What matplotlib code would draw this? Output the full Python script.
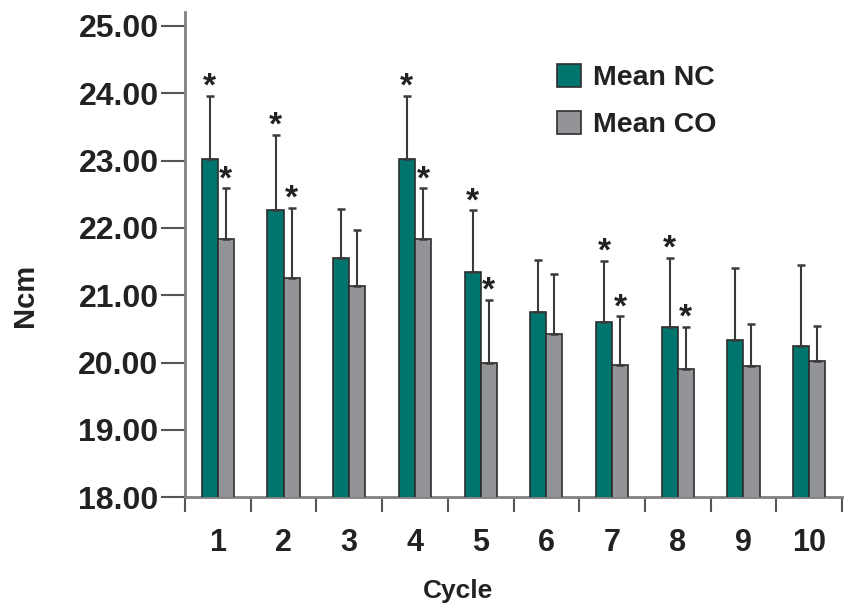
import numpy as np
import matplotlib.pyplot as plt

plt.rcParams['font.family'] = ['Liberation Sans', 'DejaVu Sans']
plt.rcParams['font.weight'] = 'bold'

# values
cycles = ['1', '2', '3', '4', '5', '6', '7', '8', '9', '10']
mean_nc = [23.02, 22.27, 21.56, 23.02, 21.34, 20.75, 20.60, 20.53, 20.33, 20.25]
sd_nc = [0.94, 1.11, 0.72, 0.94, 0.92, 0.77, 0.91, 1.03, 1.07, 1.20]
mean_co = [21.84, 21.25, 21.14, 21.84, 20.00, 20.42, 19.97, 19.91, 19.95, 20.02]
sd_co = [0.75, 1.05, 0.83, 0.75, 0.93, 0.90, 0.72, 0.62, 0.62, 0.52]
star_nc = [1, 1, 0, 1, 1, 0, 1, 1, 0, 0]
star_co = [1, 1, 0, 1, 1, 0, 1, 1, 0, 0]

teal = '#00756e'
grey = '#939498'
dark = '#222222'

fig = plt.figure(figsize=(8.48, 6.04), dpi=100)
ax = fig.add_axes([185/848, 106.7/604, 657/848, 484.8/604])

x = np.arange(1, len(cycles) + 1)
w = 0.245
ekw = dict(ecolor='#3a3a3a', elinewidth=1.5, capsize=2.6, capthick=1.8)
ax.bar(x - w/2, mean_nc, w, color=teal, edgecolor='#2e2e2e', linewidth=1.2,
       yerr=[np.zeros(len(x)), sd_nc], error_kw=ekw, label='Mean NC', zorder=3)
ax.bar(x + w/2, mean_co, w, color=grey, edgecolor='#2e2e2e', linewidth=1.2,
       yerr=[np.zeros(len(x)), sd_co], error_kw=ekw, label='Mean CO', zorder=3)

# significance stars
for xi, m, s, f in zip(x - w/2, mean_nc, sd_nc, star_nc):
    if f:
        ax.annotate('*', (xi, m + s), xytext=(0, 0), textcoords='offset points',
                    ha='center', va='baseline', fontsize=24, color=dark)
for xi, m, s, f in zip(x + w/2, mean_co, sd_co, star_co):
    if f:
        ax.annotate('*', (xi, m + s), xytext=(0, 0), textcoords='offset points',
                    ha='center', va='baseline', fontsize=24, color=dark)

ax.set_xlim(0.5, 10.5)
ax.set_ylim(18, 25.2)
ax.set_yticks(np.arange(18, 25.5, 1))
ax.set_yticklabels(['%.2f' % v for v in np.arange(18, 25.5, 1)])

ax.set_xticks(np.arange(0.5, 11, 1))
ax.set_xticklabels([])
ax.set_xticks(x, minor=True)
ax.set_xticklabels(cycles, minor=True)

ax.tick_params(axis='y', length=17, width=1.5, color='#555555', pad=2,
               labelsize=23, labelcolor=dark)
ax.tick_params(axis='x', which='major', length=11, width=1.5, color='#555555')
ax.tick_params(axis='x', which='minor', length=0, pad=22, labelsize=22,
               labelcolor=dark)

for side in ['top', 'right']:
    ax.spines[side].set_visible(False)
for side in ['left', 'bottom']:
    ax.spines[side].set_color('#808080')
    ax.spines[side].set_linewidth(2)

fig.text(25/848, 1 - 295/604, 'Ncm', rotation=90, ha='center', va='center',
         fontsize=21, color=dark)
fig.text(458/848, 1 - 579/604, 'Cycle', ha='center', va='top',
         fontsize=19, color=dark)

ax.legend(loc='upper left', bbox_to_anchor=(557/848, 1 - 64/604),
          bbox_transform=fig.transFigure, frameon=False, fontsize=20.5,
          handlelength=0.85, handleheight=0.85, handletextpad=0.4,
          labelspacing=0.7, borderpad=0, borderaxespad=0, labelcolor=dark)

fig.savefig('out.png', dpi=100)
